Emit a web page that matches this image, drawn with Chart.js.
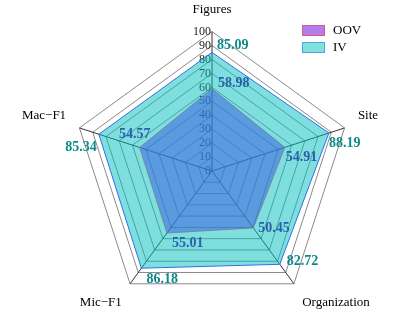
<!DOCTYPE html>
<html>
<head>
<meta charset="utf-8">
<script src="https://cdn.jsdelivr.net/npm/chart.js@4/dist/chart.umd.min.js"></script>
<style>
  html, body { margin: 0; padding: 0; background: #fff; }
  #wrap { width: 396px; height: 312px; }
</style>
</head>
<body>
<div id="wrap"><canvas id="radar"></canvas></div>
<script>
// data
var axes = ["Figures", "Site", "Organization", "Mic\u2212F1", "Mac\u2212F1"];
var oovValues = [58.98, 54.91, 50.45, 55.01, 54.57];
var ivValues = [85.09, 88.19, 82.72, 86.18, 85.34];
var tickValues = [0, 10, 20, 30, 40, 50, 60, 70, 80, 90, 100];
var seriesNames = ["OOV", "IV"];

var SERIF = "'Liberation Serif', 'Times New Roman', serif";

// offsets of the value labels from their point (label style only)
var ivLabelOffset = [[5, -7, "left"], [0, 10, "left"], [7, -3, "left"], [5, 11, "left"], [-2, 13, "right"]];
var oovLabelOffset = [[6, -5, "left"], [1, 10, "left"], [5, 0, "left"], [5, 10, "left"], [-5, -13, "center"]];

// the radial scale fits a bit too small here, so grow it a little and nudge the centre
var baseCenter = Chart.RadialLinearScale.prototype.setCenterPoint;
Chart.RadialLinearScale.prototype.setCenterPoint = function(l, r, t, b) {
  baseCenter.call(this, l, r, t, b);
  this.drawingArea += 13;
  this.xCenter += 8;
  this.yCenter += 1;
};

var extras = {
  id: "extras",
  beforeDatasetsDraw: function(chart) {
    // tick numbers, right aligned against the vertical axis, under the fills
    var r = chart.scales.r;
    var ctx = chart.ctx;
    ctx.save();
    ctx.font = "12px " + SERIF;
    ctx.fillStyle = "#222";
    ctx.textAlign = "right";
    ctx.textBaseline = "middle";
    tickValues.forEach(function(v) {
      var d = r.getDistanceFromCenterForValue(v);
      ctx.fillText(String(v), r.xCenter - 1, r.yCenter - d);
    });
    ctx.restore();
  },
  afterDatasetsDraw: function(chart) {
    var r = chart.scales.r;
    var ctx = chart.ctx;
    ctx.save();
    ctx.font = "bold 14px " + SERIF;
    ctx.textBaseline = "middle";
    function put(vals, offs, color) {
      ctx.fillStyle = color;
      vals.forEach(function(v, i) {
        var p = r.getPointPositionForValue(i, v);
        ctx.textAlign = offs[i][2];
        ctx.fillText(v.toFixed(2), p.x + offs[i][0], p.y + offs[i][1]);
      });
    }
    put(ivValues, ivLabelOffset, "#0f8a8a");
    put(oovValues, oovLabelOffset, "#2d5fab");

    // legend box, top right
    var lx = chart.width - 94, ly = 25;
    var boxes = [["#b57cee", "#d0607a"], ["#80e0e0", "#4aa8e8"]];
    ctx.font = "13px " + SERIF;
    ctx.textAlign = "left";
    seriesNames.forEach(function(name, i) {
      var y = ly + i * 17;
      ctx.fillStyle = boxes[i][0];
      ctx.fillRect(lx, y, 23, 11);
      ctx.strokeStyle = boxes[i][1];
      ctx.lineWidth = 1;
      ctx.strokeRect(lx + 0.5, y + 0.5, 22, 10);
      ctx.fillStyle = "#000";
      ctx.fillText(name, lx + 31, y + 6);
    });
    ctx.restore();
  }
};

var cfg = {
  type: "radar",
  data: {
    labels: axes,
    datasets: [
      {
        label: seriesNames[0],
        data: oovValues,
        backgroundColor: "rgba(60, 100, 224, 0.55)",
        borderColor: "rgba(120, 130, 150, 0.9)",
        borderWidth: 1,
        pointRadius: 0,
        order: 1
      },
      {
        label: seriesNames[1],
        data: ivValues,
        backgroundColor: "rgba(0, 192, 192, 0.5)",
        borderColor: "#2f6fe8",
        borderWidth: 1,
        pointRadius: 0,
        order: 2
      }
    ]
  },
  options: {
    responsive: true,
    maintainAspectRatio: false,
    animation: false,
    layout: { padding: { left: 4, right: 4, top: 0, bottom: 0 } },
    plugins: {
      legend: { display: false },
      tooltip: { enabled: false }
    },
    scales: {
      r: {
        min: 0,
        max: 100,
        ticks: { stepSize: 10, display: false },
        grid: { color: "#8a8a8a", lineWidth: 1 },
        angleLines: { color: "#333", lineWidth: 1 },
        pointLabels: {
          font: { family: SERIF, size: 13 },
          color: "#000",
          padding: 14
        }
      }
    }
  },
  plugins: [extras]
};

var myRadar = new Chart(document.getElementById("radar"), cfg);
</script>
</body>
</html>
